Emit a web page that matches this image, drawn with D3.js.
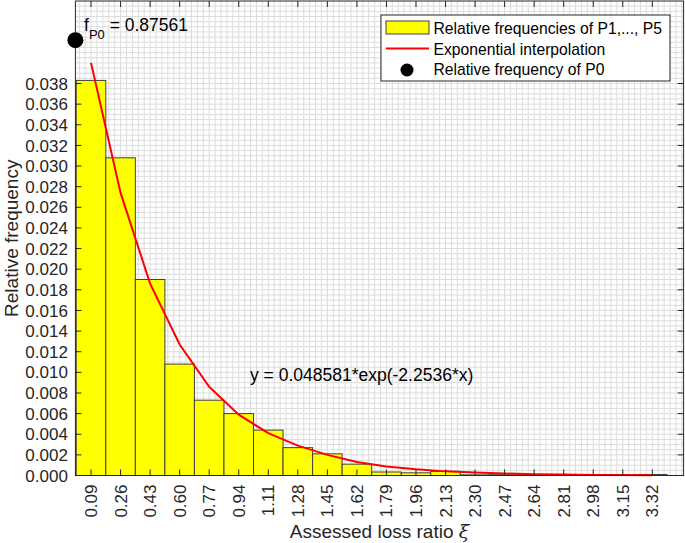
<!DOCTYPE html>
<html>
<head>
<meta charset="utf-8">
<script src="https://cdn.jsdelivr.net/npm/d3@7"></script>
<style>
  html, body { margin: 0; padding: 0; background: #fff; }
  svg { display: block; font-family: "Liberation Sans", Arial, sans-serif; }
</style>
</head>
<body>
<svg id="chart" width="685" height="543"></svg>
<script>
// ---- data ----
const categories = ["0.09","0.26","0.43","0.60","0.77","0.94","1.11","1.28","1.45","1.62",
                    "1.79","1.96","2.13","2.30","2.47","2.64","2.81","2.98","3.15","3.32"];
const binCenters = [0.09,0.26,0.43,0.60,0.77,0.94,1.11,1.28,1.45,1.62,
                    1.79,1.96,2.13,2.30,2.47,2.64,2.81,2.98,3.15,3.32];
const relFreq = [0.0383,0.0308,0.0190,0.0108,0.0073,0.0060,0.0044,0.0027,0.0021,0.0011,
                 0.00034,0.00026,0.0004,0.00006,0.00012,0.00006,0.00003,0.00002,0.00002,0.0001];
const expInterp = [0.0400,0.0274,0.0186,0.0127,0.0086,0.0059,0.0041,0.0029,0.0020,0.0013,
                   0.00088,0.0006,0.0004,0.00028,0.00019,0.00013,0.00009,0.00006,0.00004,0.00003];
const p0Point = [{x: 0, y: 0.0422}];
const p0Label = "0.87561";
const yTicks = d3.range(0, 0.0381, 0.002);
const binWidth = 0.17;
const equationText = "y = 0.048581*exp(-2.2536*x)";
const legendLabels = ["Relative frequencies of P1,..., P5", "Exponential interpolation", "Relative frequency of P0"];

// ---- layout ----
const L = 75.4, R = 683.6, T = 1, B = 475.5;
const axisColor = "#262626";
const svg = d3.select("#chart");
const x = d3.scaleLinear().domain([0, 3.5]).range([L, R]);
const y = d3.scaleLinear().domain([0, 0.046]).range([B, T]);

// ---- grid ----
const grid = svg.append("g");
const xMinor = d3.range(-3, 110).map(k => 0.09 + k * 0.034).filter(v => v > 0.001 && v < 3.499);
const yMinor = d3.range(1, 92).map(k => k * 0.0005).filter(v => v < 0.0459);
grid.selectAll("line.gx").data(xMinor).enter().append("line")
  .attr("x1", d => x(d)).attr("x2", d => x(d)).attr("y1", T).attr("y2", B)
  .attr("stroke", "#dcdcdc").attr("stroke-width", 1);
grid.selectAll("line.gy").data(yMinor).enter().append("line")
  .attr("x1", L).attr("x2", R).attr("y1", d => y(d)).attr("y2", d => y(d))
  .attr("stroke", "#dcdcdc").attr("stroke-width", 1);

// ---- bars ----
svg.append("g").selectAll("rect").data(relFreq).enter().append("rect")
  .attr("x", (d, i) => x(binCenters[i] - binWidth / 2))
  .attr("width", (d, i) => x(binCenters[i] + binWidth / 2) - x(binCenters[i] - binWidth / 2))
  .attr("y", d => y(d))
  .attr("height", d => B - y(d))
  .attr("fill", "#ffff00")
  .attr("stroke", "#404040")
  .attr("stroke-width", 1);

// ---- exponential line ----
const line = d3.line().x((d, i) => x(binCenters[i])).y(d => y(d));
svg.append("path").datum(expInterp)
  .attr("d", line).attr("fill", "none")
  .attr("stroke", "#ff0000").attr("stroke-width", 2);

// ---- axes box + ticks ----
const ax = svg.append("g");
ax.append("rect").attr("x", L).attr("y", T).attr("width", R - L).attr("height", B - T)
  .attr("fill", "none").attr("stroke", axisColor).attr("stroke-width", 1);
const tl = 6;
ax.selectAll("line.xb").data(binCenters).enter().append("line")
  .attr("x1", d => x(d)).attr("x2", d => x(d)).attr("y1", B).attr("y2", B - tl)
  .attr("stroke", axisColor);
ax.selectAll("line.xt").data(binCenters).enter().append("line")
  .attr("x1", d => x(d)).attr("x2", d => x(d)).attr("y1", T).attr("y2", T + tl)
  .attr("stroke", axisColor);
ax.selectAll("line.yl").data(yTicks).enter().append("line")
  .attr("x1", L).attr("x2", L + tl).attr("y1", d => y(d)).attr("y2", d => y(d))
  .attr("stroke", axisColor);
ax.selectAll("line.yr").data(yTicks).enter().append("line")
  .attr("x1", R).attr("x2", R - tl).attr("y1", d => y(d)).attr("y2", d => y(d))
  .attr("stroke", axisColor);

// tick labels
ax.selectAll("text.xl").data(categories).enter().append("text")
  .attr("transform", (d, i) => `translate(${x(binCenters[i]) + 6},${B + 9}) rotate(-90)`)
  .attr("text-anchor", "end")
  .attr("font-size", 17).attr("fill", axisColor)
  .text(d => d);
ax.selectAll("text.yl").data(yTicks).enter().append("text")
  .attr("x", L - 7.5).attr("y", d => y(d)).attr("dy", "0.36em")
  .attr("text-anchor", "end")
  .attr("font-size", 17).attr("fill", axisColor)
  .text(d => d3.format(".3f")(d));

// axis titles
const xt = svg.append("text")
  .attr("x", (L + R) / 2).attr("y", 538)
  .attr("text-anchor", "middle").attr("font-size", 19).attr("fill", axisColor);
xt.append("tspan").text("Assessed loss ratio ");
xt.append("tspan").attr("font-family", "'DejaVu Serif', 'Liberation Serif', serif").attr("font-style", "italic").text("ξ");
svg.append("text")
  .attr("transform", `translate(18,${(T + B) / 2}) rotate(-90)`)
  .attr("text-anchor", "middle").attr("font-size", 19).attr("fill", axisColor)
  .text("Relative frequency");

// ---- P0 dot + annotation ----
svg.append("g").selectAll("circle").data(p0Point).enter().append("circle")
  .attr("cx", d => x(d.x)).attr("cy", d => y(d.y)).attr("r", 8).attr("fill", "#000");
const ft = svg.append("text").attr("x", 84).attr("y", 30.7)
  .attr("font-size", 17.5).attr("fill", "#000");
ft.append("tspan").text("f");
ft.append("tspan").attr("font-size", 13).attr("dy", 8).text("P0");
ft.append("tspan").attr("dy", -8).text(" = " + p0Label);

// equation
svg.append("text").attr("x", 250).attr("y", 380.5)
  .attr("font-size", 17.5).attr("fill", "#000").text(equationText);

// ---- legend ----
const lg = svg.append("g");
lg.append("rect").attr("x", 381).attr("y", 15).attr("width", 289).attr("height", 66)
  .attr("fill", "#fff").attr("stroke", axisColor).attr("stroke-width", 1);
lg.append("rect").attr("x", 386).attr("y", 21).attr("width", 43).attr("height", 13)
  .attr("fill", "#ffff00").attr("stroke", "#404040");
lg.append("line").attr("x1", 386).attr("x2", 429).attr("y1", 48.5).attr("y2", 48.5)
  .attr("stroke", "#ff0000").attr("stroke-width", 2);
lg.append("circle").attr("cx", 407).attr("cy", 70).attr("r", 6.5).attr("fill", "#000");
lg.selectAll("text").data(legendLabels).enter().append("text")
  .attr("x", 433.5).attr("y", (d, i) => 34 + i * 20.5)
  .attr("font-size", 15.7).attr("fill", "#000").text(d => d);
</script>
</body>
</html>
